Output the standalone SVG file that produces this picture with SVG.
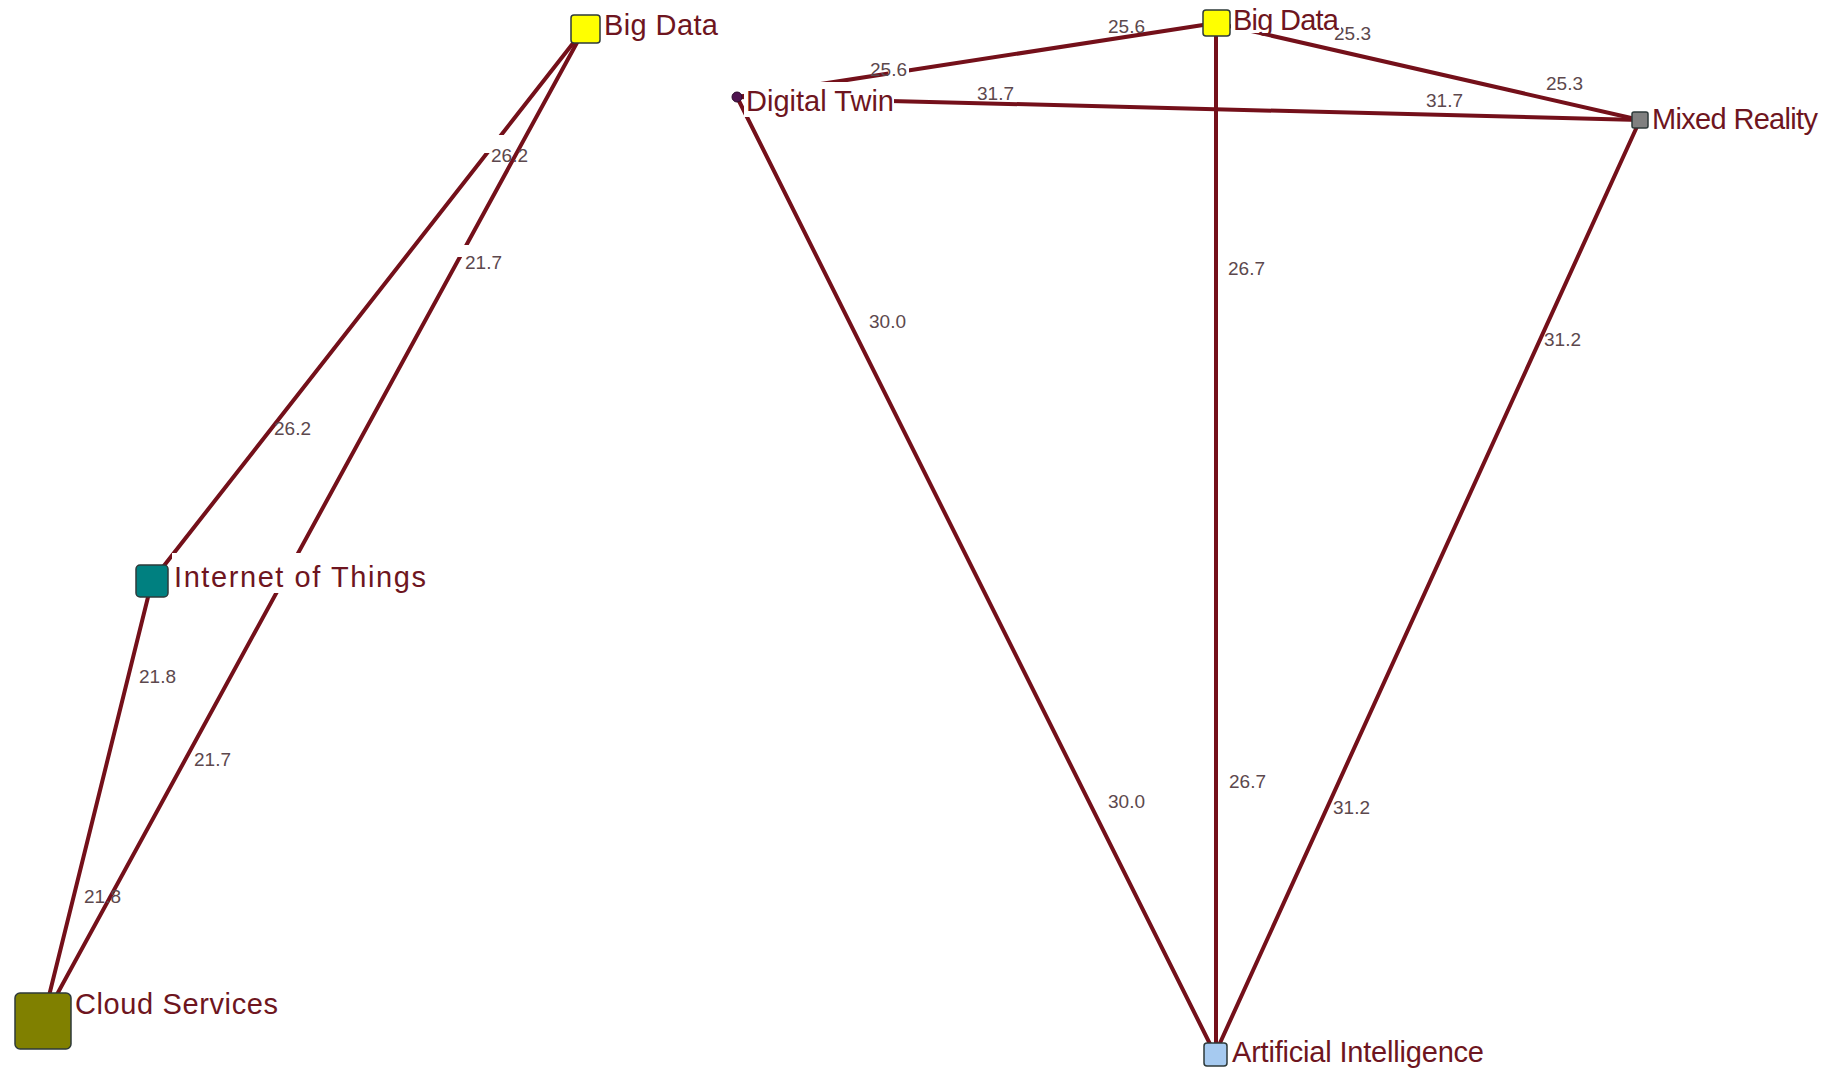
<svg xmlns="http://www.w3.org/2000/svg" width="1840" height="1068" viewBox="0 0 1840 1068">
<style>
.edge{stroke:#74101a;stroke-width:4;stroke-linecap:round;fill:none}
.elab{font-family:"Liberation Sans",Arial,sans-serif;font-size:19px;fill:#5c484d}
.nlab{font-family:"Liberation Sans",Arial,sans-serif;font-size:29px;fill:#6e1520}
.bg{fill:#ffffff}
.node{stroke:#2e3a3a;stroke-width:1.5}
</style>
<rect width="1840" height="1068" fill="#ffffff"/>
<g id="connectors">
<line class="edge" x1="585" y1="28" x2="152" y2="581"/>
<line class="edge" x1="585" y1="28" x2="43" y2="1020"/>
<line class="edge" x1="152" y1="581" x2="43" y2="1020"/>
<line class="edge" x1="737" y1="97" x2="1216" y2="23"/>
<line class="edge" x1="737" y1="97" x2="1640" y2="120"/>
<line class="edge" x1="737" y1="97" x2="1215" y2="1054"/>
<line class="edge" x1="1216" y1="23" x2="1216" y2="1054"/>
<line class="edge" x1="1216" y1="23" x2="1640" y2="120"/>
<line class="edge" x1="1640" y1="120" x2="1215" y2="1054"/>
</g>
<g id="edge-label-gaps">
<rect class="bg" x="480" y="135" width="26" height="18"/>
<rect class="bg" x="455" y="245" width="17" height="12"/>
<rect class="bg" x="888" y="66" width="21" height="14"/>
</g>
<g id="edge-labels">
<text class="elab" x="491" y="162">26.2</text>
<text class="elab" x="274" y="435">26.2</text>
<text class="elab" x="465" y="269">21.7</text>
<text class="elab" x="194" y="766">21.7</text>
<text class="elab" x="139" y="683">21.8</text>
<text class="elab" x="84" y="903">21.8</text>
<text class="elab" x="870" y="76">25.6</text>
<text class="elab" x="1108" y="33">25.6</text>
<text class="elab" x="1334" y="40">25.3</text>
<text class="elab" x="1546" y="90">25.3</text>
<text class="elab" x="977" y="100">31.7</text>
<text class="elab" x="1426" y="107">31.7</text>
<text class="elab" x="869" y="328">30.0</text>
<text class="elab" x="1108" y="808">30.0</text>
<text class="elab" x="1228" y="275">26.7</text>
<text class="elab" x="1229" y="788">26.7</text>
<text class="elab" x="1544" y="346">31.2</text>
<text class="elab" x="1333" y="814">31.2</text>
</g>
<g id="node-big-data-left">
<rect class="bg" x="602" y="10" width="118" height="32"/>
<rect class="node" x="571" y="15" width="29" height="28" rx="3" fill="#ffff00"/>
<text class="nlab" x="604" y="35" textLength="114">Big Data</text>
</g>
<g id="node-internet-of-things">
<rect class="bg" x="172" y="553" width="258" height="40"/>
<rect class="node" x="136" y="565" width="32" height="32" rx="4" fill="#008080"/>
<text class="nlab" x="174" y="587" textLength="252">Internet of Things</text>
</g>
<g id="node-cloud-services">
<rect class="bg" x="73" y="986" width="208" height="36"/>
<rect class="node" x="15" y="993" width="56" height="56" rx="5" fill="#808000"/>
<text class="nlab" x="75" y="1014" textLength="203">Cloud Services</text>
</g>
<g id="node-digital-twin">
<rect class="bg" x="744" y="82" width="150" height="35"/>
<circle cx="737" cy="97" r="5" fill="#4f1450" stroke="#2a0a2a" stroke-width="1"/>
<text class="nlab" x="746" y="111" textLength="148">Digital Twin</text>
</g>
<g id="node-big-data-right">
<rect class="bg" x="1231" y="4" width="110" height="29"/>
<rect class="node" x="1203" y="10" width="27" height="26" rx="3" fill="#ffff00"/>
<text class="nlab" x="1233" y="30" textLength="106">Big Data</text>
</g>
<g id="node-mixed-reality">
<rect class="node" x="1632" y="112" width="16" height="16" rx="2" fill="#808080"/>
<text class="nlab" x="1652" y="129" textLength="166">Mixed Reality</text>
</g>
<g id="node-artificial-intelligence">
<rect class="node" x="1204" y="1043" width="23" height="23" rx="3" fill="#a6caf0" stroke="#607080"/>
<text class="nlab" x="1232" y="1062" textLength="252">Artificial Intelligence</text>
</g>
</svg>
